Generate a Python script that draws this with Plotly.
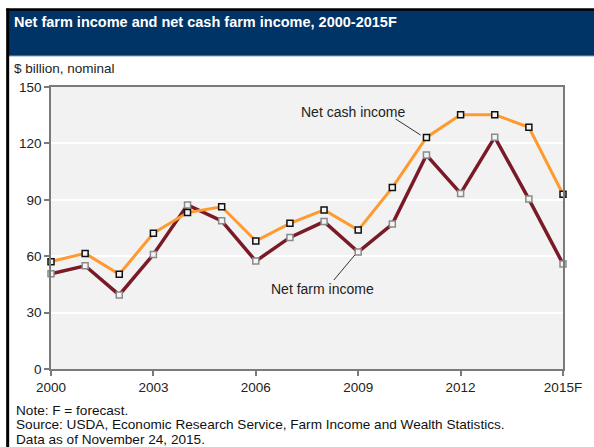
import plotly.graph_objects as go

years = list(range(2000, 2016))
tick_vals = [2000, 2003, 2006, 2009, 2012, 2015]
tick_text = ["2000", "2003", "2006", "2009", "2012", "2015F"]
net_cash_income = [57.1, 61.5, 50.4, 72.2, 83.2, 86.3, 68.1, 77.5, 84.6, 73.9,
                   96.5, 123.2, 135.3, 135.3, 128.6, 92.9]
net_farm_income = [50.7, 54.9, 39.4, 60.9, 87.3, 78.8, 57.4, 70.0, 78.4, 62.2,
                   77.1, 113.8, 93.4, 123.3, 90.4, 55.9]

W, H = 594, 447
L, R, T, B = 51, 565, 87, 369  # plot area in pixels


def px(x):
    return (x - L) / (R - L)


def py(y):
    return (B - y) / (B - T)


def dx(x):
    return 2000 + (x - L) / (R - L) * 15


def dy(y):
    return (B - y) / (B - T) * 150


fig = go.Figure()
fig.add_trace(go.Scatter(
    x=years, y=net_farm_income, mode="lines+markers", name="Net farm income",
    line=dict(color="#7a1a26", width=3.5),
    marker=dict(symbol="square", size=6, color="#f4f4f4",
                line=dict(color="#8a8a8a", width=1.5)),
    cliponaxis=False))
fig.add_trace(go.Scatter(
    x=years, y=net_cash_income, mode="lines+markers", name="Net cash income",
    line=dict(color="#ff9a2e", width=3),
    marker=dict(symbol="square", size=6, color="#f4f4f4",
                line=dict(color="#111111", width=1.5)),
    cliponaxis=False))

shapes = [
    # title bar
    dict(type="rect", xref="paper", yref="paper", x0=px(7), x1=px(600),
         y0=py(56), y1=py(10), fillcolor="#003366", line=dict(width=0), layer="below"),
    dict(type="line", xref="paper", yref="paper", x0=px(7), x1=px(600),
         y0=py(56), y1=py(56), line=dict(color="#8aa3c4", width=1)),
    # black frame
    dict(type="line", xref="paper", yref="paper", x0=px(6), x1=px(600),
         y0=py(9.5), y1=py(9.5), line=dict(color="#000000", width=2.5)),
    dict(type="line", xref="paper", yref="paper", x0=px(7.5), x1=px(7.5),
         y0=py(8.5), y1=py(460), line=dict(color="#000000", width=3)),
    # leader lines
    dict(type="line", xref="x", yref="y", x0=dx(397), y0=dy(119), x1=dx(422), y1=dy(135),
         line=dict(color="#333333", width=1)),
    dict(type="line", xref="x", yref="y", x0=dx(335), y0=dy(280), x1=dx(356), y1=dy(255),
         line=dict(color="#333333", width=1)),
]

font_main = "Arial, Liberation Sans, sans-serif"
annotations = [
    dict(text="<b>Net farm income and net cash farm income, 2000-2015F</b>",
         xref="paper", yref="paper", x=px(12), y=py(22), xanchor="left", yanchor="middle",
         showarrow=False, font=dict(color="white", size=14.5, family=font_main)),
    dict(text="$ billion, nominal", xref="paper", yref="paper", x=px(12), y=py(68),
         xanchor="left", yanchor="middle", showarrow=False,
         font=dict(color="#222222", size=13.5, family=font_main)),
    dict(text="Net cash income", xref="x", yref="y", x=dx(354.5), y=dy(112),
         xanchor="center", yanchor="middle", showarrow=False,
         font=dict(color="#222222", size=14, family=font_main)),
    dict(text="Net farm income", xref="x", yref="y", x=dx(323.5), y=dy(289),
         xanchor="center", yanchor="middle", showarrow=False,
         font=dict(color="#222222", size=14, family=font_main)),
]
footer = ["Note: F = forecast.",
          "Source: USDA, Economic Research Service, Farm Income and Wealth Statistics.",
          "Data as of November 24, 2015."]
for i, line in enumerate(footer):
    annotations.append(dict(text=line, xref="paper", yref="paper", x=px(14),
                            y=py(410 + 14.5 * i), xanchor="left", yanchor="middle",
                            showarrow=False,
                            font=dict(color="#111111", size=13.6, family=font_main)))

fig.update_layout(
    width=W, height=H,
    margin=dict(l=L, r=W - R, t=T, b=H - B, pad=0),
    paper_bgcolor="white", plot_bgcolor="#f2f2f2",
    showlegend=False,
    shapes=shapes, annotations=annotations,
    font=dict(family=font_main, color="#222222", size=13.5),
)
fig.update_xaxes(
    range=[2000, 2015], tickvals=tick_vals, ticktext=tick_text,
    showgrid=False, zeroline=False,
    showline=True, linecolor="#7a7a7a", linewidth=1.5, mirror=True,
    ticks="outside", ticklen=5, tickcolor="#7a7a7a", tickwidth=1.5,
    tickfont=dict(size=13.5, color="#222222"))
fig.update_yaxes(
    range=[0, 150], tickvals=[0, 30, 60, 90, 120, 150],
    showgrid=True, gridcolor="#ffffff", gridwidth=1.5, zeroline=False,
    showline=True, linecolor="#7a7a7a", linewidth=1.5, mirror=True,
    ticks="outside", ticklen=5, tickcolor="#7a7a7a", tickwidth=1.5,
    tickfont=dict(size=13.5, color="#222222"))

fig.write_html("out.html")
